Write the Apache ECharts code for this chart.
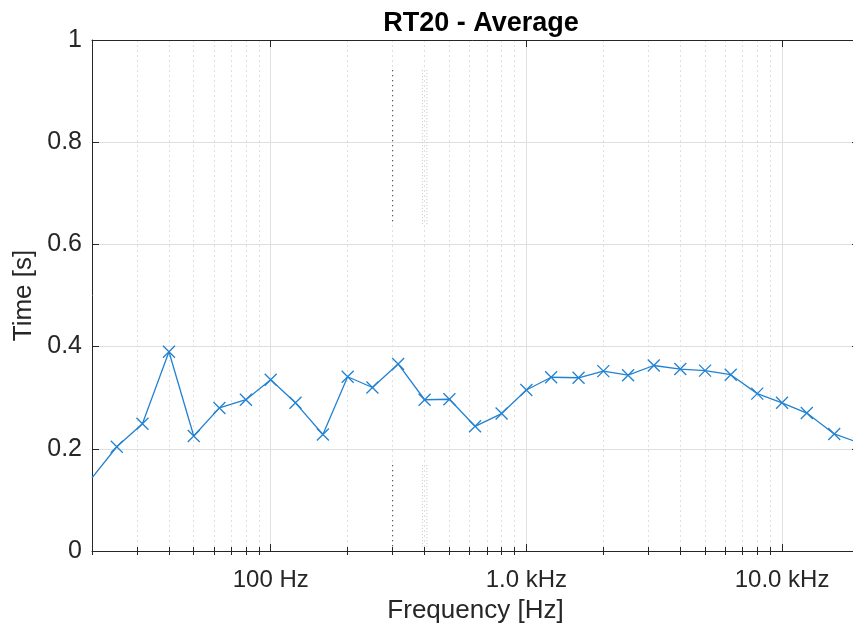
<!DOCTYPE html>
<html><head><meta charset="utf-8">
<script src="https://cdn.jsdelivr.net/npm/echarts@6/dist/echarts.min.js"></script>
<style>html,body{margin:0;padding:0;background:#fff}#c{width:853px;height:631px}</style>
</head><body><div id="c"></div>
<script>
// ---- data ----
const frequencies = [20,25,31.5,40,50,63,80,100,125,160,200,250,315,400,500,630,800,1000,1250,1600,2000,2500,3150,4000,5000,6300,8000,10000,12500,16000,20000];
const rt20 = [0.143,0.204,0.249,0.390,0.225,0.280,0.296,0.335,0.290,0.228,0.341,0.320,0.366,0.296,0.297,0.244,0.269,0.315,0.340,0.339,0.352,0.344,0.363,0.356,0.353,0.345,0.308,0.290,0.270,0.229,0.212];
const xMajorTicks = [100, 1000, 10000];
const xMajorLabels = ['100 Hz', '1.0 kHz', '10.0 kHz'];
const xMinorTicks = [20,30,40,50,60,70,80,90,200,300,400,500,600,700,800,900,2000,3000,4000,5000,6000,7000,8000,9000,20000];
const yTicks = [0, 0.2, 0.4, 0.6, 0.8, 1];
// stray dotted marks visible in the reference
const strayBlackFreq = [300, 300, 300, 300, 300];
const strayBlackVal = [0.941, 0.638, null, 0.168, 0.008];
const strayGreyFreqA = [392, 392, 392, 392, 392];
const strayGreyFreqB = [408, 408, 408, 408, 408];
const strayGreyVal = [0.941, 0.638, null, 0.168, 0.008];

const titleText = 'RT20 - Average';
const xName = 'Frequency [Hz]';
const yName = 'Time [s]';

// ---- style ----
const FONT = '"Liberation Sans", Arial, Helvetica, sans-serif';
const axisColor = '#262626';
const gridColor = '#dfdfdf';
const lineColor = '#2282d2';
const xMin = 20, xMax = 20000;

function zip(a, b) { return a.map((v, i) => [v, b[i]]); }

const chart = echarts.init(document.getElementById('c'), null, {renderer: 'canvas'});

const baseLog = {type: 'log', logBase: 10, min: xMin, max: xMax, gridIndex: 0};

const mainData = zip(frequencies, rt20).map((p, i) => i === 0 ? {value: p, symbol: 'none'} : p);

chart.setOption({
  animation: false,
  backgroundColor: '#ffffff',
  title: {
    text: titleText, left: 476, top: 5, textAlign: 'center',
    textStyle: {fontFamily: FONT, fontSize: 27, fontWeight: 'bold', color: '#000'}
  },
  grid: {left: 92, top: 40, width: 767, height: 511, containLabel: false, outerBoundsMode: 'none'},
  xAxis: [
    Object.assign({}, baseLog, {
      position: 'bottom',
      axisLine: {show: true, onZero: false, lineStyle: {color: axisColor, width: 1}},
      axisTick: {show: true, inside: true, length: 7, customValues: xMajorTicks, lineStyle: {color: axisColor}},
      axisLabel: {show: true, customValues: xMajorTicks, margin: 17, color: axisColor, fontFamily: FONT, fontSize: 24,
        formatter: v => { const i = xMajorTicks.indexOf(Math.round(v)); return i >= 0 ? xMajorLabels[i] : ''; }},
      splitLine: {show: true, lineStyle: {color: gridColor, width: 1}},
      name: xName, nameLocation: 'middle', nameGap: 47,
      nameTextStyle: {fontFamily: FONT, fontSize: 26, color: axisColor}
    }),
    Object.assign({}, baseLog, {
      position: 'bottom',
      axisLine: {show: false},
      axisTick: {show: true, inside: true, length: 4, customValues: xMinorTicks, lineStyle: {color: axisColor}},
      axisLabel: {show: false},
      splitLine: {show: true, lineStyle: {color: gridColor, width: 1, type: [2, 3]}}
    }),
    Object.assign({}, baseLog, {
      position: 'top',
      axisLine: {show: true, onZero: false, lineStyle: {color: axisColor, width: 1}},
      axisTick: {show: true, inside: true, length: 7, customValues: xMajorTicks, lineStyle: {color: axisColor}},
      axisLabel: {show: false},
      splitLine: {show: false}
    }),
    Object.assign({}, baseLog, {
      position: 'top',
      axisLine: {show: false},
      axisTick: {show: true, inside: true, length: 4, customValues: xMinorTicks, lineStyle: {color: axisColor}},
      axisLabel: {show: false},
      splitLine: {show: false}
    })
  ],
  yAxis: [
    {
      type: 'value', min: 0, max: 1, interval: 0.2, position: 'left',
      axisLine: {show: true, onZero: false, lineStyle: {color: axisColor, width: 1}},
      axisTick: {show: true, inside: true, length: 7, lineStyle: {color: axisColor}},
      axisLabel: {show: true, margin: 10, color: axisColor, fontFamily: FONT, fontSize: 25},
      splitLine: {show: true, lineStyle: {color: gridColor, width: 1}},
      name: yName, nameLocation: 'middle', nameGap: 52, nameRotate: 90,
      nameTextStyle: {fontFamily: FONT, fontSize: 26, color: axisColor}
    },
    {
      type: 'value', min: 0, max: 1, interval: 0.2, position: 'right',
      axisLine: {show: true, onZero: false, lineStyle: {color: axisColor, width: 1}},
      axisTick: {show: true, inside: true, length: 7, lineStyle: {color: axisColor}},
      axisLabel: {show: false},
      splitLine: {show: false}
    }
  ],
  series: [
    {
      type: 'line', xAxisIndex: 0, yAxisIndex: 0, silent: true,
      data: zip(strayBlackFreq, strayBlackVal), connectNulls: false,
      symbol: 'none', lineStyle: {color: '#222', width: 1, type: [1, 4]}, z: 3
    },
    {
      type: 'line', xAxisIndex: 0, yAxisIndex: 0, silent: true,
      data: zip(strayGreyFreqA, strayGreyVal), connectNulls: false,
      symbol: 'none', lineStyle: {color: '#c4c4c4', width: 1, type: [1, 2]}, z: 3
    },
    {
      type: 'line', xAxisIndex: 0, yAxisIndex: 0, silent: true,
      data: zip(strayGreyFreqB, strayGreyVal), connectNulls: false,
      symbol: 'none', lineStyle: {color: '#c4c4c4', width: 1, type: [1, 2]}, z: 3
    },
    {
      type: 'line', xAxisIndex: 0, yAxisIndex: 0, name: 'RT20',
      data: mainData,
      symbol: 'path://M0,0L10,10M10,0L0,10', symbolSize: 12, showAllSymbol: true,
      lineStyle: {color: lineColor, width: 1.3},
      itemStyle: {color: lineColor, borderColor: lineColor, borderWidth: 1.3},
      emphasis: {disabled: true}, z: 5
    }
  ]
});
</script>
</body></html>
